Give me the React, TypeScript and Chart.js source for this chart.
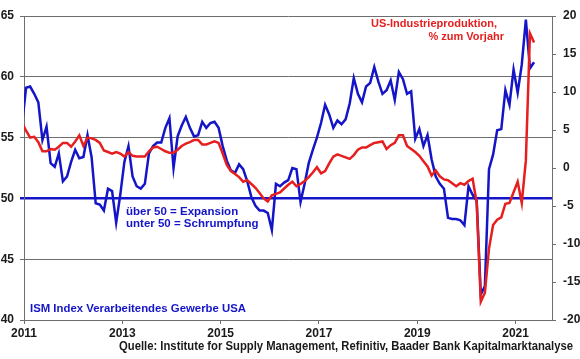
import React, { useEffect, useRef } from "react";
import { Chart, registerables } from "chart.js";

Chart.register(...registerables);

// First data month: December 2010 (month index 11 of 2010); values are monthly
const startYear = 2010;
const startMonth = 11;

// ISM Index Verarbeitendes Gewerbe USA (left axis)
const ismValues = [
  56.0,
  59.1, 59.2, 58.6, 57.9, 54.8, 55.9, 52.9, 52.6, 53.7, 51.4, 51.8, 53.0,
  54.0, 53.3, 53.4, 55.2, 53.4, 49.6, 49.5, 49.0, 50.8, 50.6, 48.0, 50.3,
  53.0, 54.3, 51.8, 51.0, 50.8, 51.2, 53.7, 54.3, 54.6, 54.6, 55.8, 56.6,
  52.5, 55.1, 56.0, 56.7, 55.8, 55.1, 55.2, 56.3, 55.8, 56.2, 56.3, 55.8,
  54.3, 53.1, 52.3, 52.1, 52.8, 52.4, 51.4, 50.1, 49.4, 49.0, 49.0, 48.8,
  47.4, 51.2, 51.0, 51.3, 51.5, 52.5, 52.4, 49.7, 51.2, 52.9, 54.0, 55.0,
  56.2, 57.7, 56.9, 55.8, 56.4, 56.1, 56.5, 57.8, 59.9, 58.6, 57.9, 59.2,
  59.5, 60.8, 59.6, 58.6, 58.9, 59.7, 58.1, 60.4, 59.8, 58.6, 58.8, 54.9,
  55.7, 54.3, 55.2, 53.2, 51.8, 51.2, 50.8, 48.4, 48.3, 48.3, 48.2, 47.8,
  51.0, 50.3, 49.8, 42.1, 42.8, 52.4, 53.6, 55.6, 55.7, 58.9, 57.7, 60.6,
  58.7, 61.0, 64.7, 60.7, 61.2,
];

// US-Industrieproduktion, % zum Vorjahr (right axis)
const ipValues = [
  6.0,
  4.9, 4.0, 4.1, 3.4, 2.2, 2.2, 2.5, 2.4, 2.8, 3.3, 3.3, 2.8,
  3.5, 4.3, 2.9, 4.0, 3.9, 3.7, 3.3, 2.3, 2.1, 1.9, 2.1, 1.9,
  1.5, 2.1, 1.6, 1.5, 1.5, 1.5, 2.2, 2.7, 2.8, 2.5, 2.2, 2.0,
  2.0, 2.4, 2.9, 3.2, 3.4, 3.7, 3.7, 3.1, 3.1, 3.3, 3.5, 3.3,
  1.9, 0.4, -0.4, -0.8, -1.2, -1.8, -1.6, -2.1, -2.6, -3.3, -4.0, -4.4,
  -3.6, -3.4, -3.2, -2.7, -2.2, -1.8, -2.4, -2.1, -1.7, -1.2, -0.6, 0.1,
  -0.7, -0.4, 0.6, 1.5, 1.8, 1.6, 1.4, 1.2, 1.7, 2.4, 2.7, 2.7,
  3.0, 3.3, 3.4, 3.5, 2.5, 3.0, 3.3, 4.3, 4.3, 2.9, 2.5, 2.1,
  1.6, 0.9, 0.2, -1.0, -0.3, -1.1, -1.5, -1.6, -2.0, -2.4, -2.0, -2.2,
  -1.7, -1.4, -4.6, -17.6, -16.4, -10.6, -7.5, -6.8, -6.5, -4.7, -4.6, -3.2,
  -1.8, -4.6, 1.0, 17.7, 16.5,
];

const xTickYears = [2011, 2013, 2015, 2017, 2019, 2021];
const xMin = 2011;
const xMax = 2021.74;
const leftMin = 40;
const leftMax = 65;
const leftStep = 5;
const expansionLine = 50;
const rightMin = -20;
const rightMax = 20;
const rightStep = 5;

const labelIp = ["US-Industrieproduktion,", "% zum Vorjahr"];
const labelThreshold = ["über 50 = Expansion", "unter 50 = Schrumpfung"];
const labelIsm = "ISM Index Verarbeitendes Gewerbe USA";
const labelSource =
  "Quelle: Institute for Supply Management, Refinitiv, Baader Bank Kapitalmarktanalyse";

const BLUE = "#1414c8";
const RED = "#e61e1e";
const GRID = "#6e6e6e";
const TEXT = "#1a1a1a";
const FONT = '"Liberation Sans", Arial, sans-serif';

const toPoints = (vals: number[]) =>
  vals.map((v, i) => ({ x: startYear + (startMonth + i + 0.5) / 12, y: v }));

const textPlugin = {
  id: "annotationTexts",
  afterDraw(chart: any) {
    const ctx = chart.ctx as CanvasRenderingContext2D;
    ctx.save();
    ctx.textBaseline = "middle";

    ctx.fillStyle = RED;
    ctx.font = `bold 11px ${FONT}`;
    ctx.textAlign = "right";
    ctx.fillText(labelIp[0], 497, 24);
    ctx.fillText(labelIp[1], 504, 37);

    ctx.fillStyle = BLUE;
    ctx.font = `bold 11.5px ${FONT}`;
    ctx.textAlign = "left";
    ctx.fillText(labelThreshold[0], 126, 212);
    ctx.fillText(labelThreshold[1], 126, 224);
    ctx.fillText(labelIsm, 30, 309, 216);

    ctx.fillStyle = TEXT;
    ctx.font = `bold 13px ${FONT}`;
    ctx.textAlign = "right";
    ctx.fillText(labelSource, 573, 346, 454);
    ctx.restore();
  },
};

export default function App() {
  const canvasRef = useRef<HTMLCanvasElement | null>(null);

  useEffect(() => {
    if (!canvasRef.current) return;
    const chart = new Chart(canvasRef.current, {
      type: "line",
      data: {
        datasets: [
          {
            label: "US-Industrieproduktion",
            data: toPoints(ipValues),
            yAxisID: "y1",
            borderColor: RED,
            backgroundColor: RED,
            borderWidth: 2.5,
            pointRadius: 0,
            tension: 0,
            order: 0,
          },
          {
            label: "ISM",
            data: toPoints(ismValues),
            yAxisID: "y",
            borderColor: BLUE,
            backgroundColor: BLUE,
            borderWidth: 2.5,
            pointRadius: 0,
            tension: 0,
            order: 1,
          },
        ],
      },
      options: {
        animation: false,
        responsive: false,
        maintainAspectRatio: false,
        layout: { padding: { top: 16, left: 0, right: 0, bottom: 0 } },
        plugins: { legend: { display: false }, tooltip: { enabled: false } },
        scales: {
          x: {
            type: "linear",
            min: xMin,
            max: xMax,
            afterBuildTicks: (s: any) => {
              s.ticks = xTickYears.map((v) => ({ value: v }));
            },
            afterFit: (s: any) => {
              s.height = 39;
            },
            grid: { drawOnChartArea: false, tickLength: 4, color: GRID },
            border: { color: GRID, width: 1 },
            ticks: {
              padding: 2,
              maxRotation: 0,
              autoSkip: false,
              color: TEXT,
              font: { family: FONT, size: 12, weight: "bold" },
              callback: (v: any) => String(v),
            },
          },
          y: {
            position: "left",
            min: leftMin,
            max: leftMax,
            afterFit: (s: any) => {
              s.width = 24;
            },
            ticks: {
              stepSize: leftStep,
              padding: 6,
              color: TEXT,
              font: { family: FONT, size: 12, weight: "bold" },
            },
            grid: {
              tickLength: 4,
              color: (c: any) => (c.tick && c.tick.value === expansionLine ? BLUE : GRID),
              lineWidth: (c: any) => (c.tick && c.tick.value === expansionLine ? 2.5 : 1),
            },
            border: { color: GRID, width: 1 },
          },
          y1: {
            position: "right",
            min: rightMin,
            max: rightMax,
            afterFit: (s: any) => {
              s.width = 28;
            },
            ticks: {
              stepSize: rightStep,
              padding: 7,
              color: TEXT,
              font: { family: FONT, size: 12, weight: "bold" },
            },
            grid: { drawOnChartArea: false, tickLength: 4, color: GRID },
            border: { color: GRID, width: 1 },
          },
        },
      },
      plugins: [textPlugin],
    } as any);
    return () => chart.destroy();
  }, []);

  return (
    <div style={{ position: "absolute", left: 0, top: 0, width: 580, height: 359, background: "#fff" }}>
      <canvas ref={canvasRef} width={580} height={359} style={{ display: "block" }} />
    </div>
  );
}
